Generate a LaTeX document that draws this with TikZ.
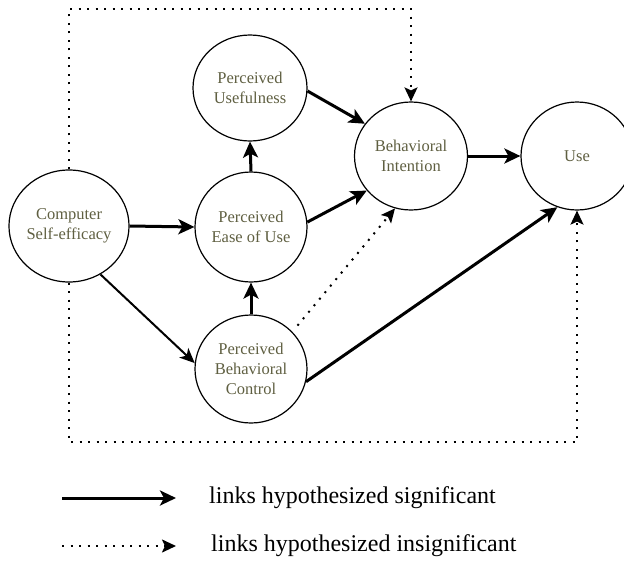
\documentclass[tikz,border=0pt]{standalone}
\usepackage{fontspec}
\setmainfont{Liberation Serif}
\usetikzlibrary{shapes.geometric,arrows.meta,calc}
\definecolor{nodetext}{RGB}{95,95,65}
\tikzset{
  construct/.style={ellipse,draw,line width=1.2pt,inner sep=0pt,
    text=nodetext,align=center,font=\fontsize{16.5}{20}\selectfont},
  sig/.style={line width=3pt,-{Stealth[length=16pt,width=15pt,inset=4pt]}},
  sigthin/.style={line width=2pt,-{Stealth[length=15pt,width=13pt,inset=4pt]}},
  insig/.style={line width=2pt,dash pattern=on 2pt off 6.5pt,-{Stealth[length=14pt,width=13pt,inset=3pt]}},
  legendtext/.style={anchor=west,inner sep=0pt,font=\fontsize{24}{28}\selectfont}
}
\begin{document}
\begin{tikzpicture}[x=1pt,y=-1pt]
\useasboundingbox (0,0) rectangle (624,563);
% nodes
\node[construct,minimum width=114pt,minimum height=112pt] (cse) at (69,226) {Computer\\Self-efficacy};
\node[construct,minimum width=114pt,minimum height=106pt] (pu) at (250,88) {Perceived\\Usefulness};
\node[construct,minimum width=112pt,minimum height=110pt] (peou) at (251,227) {Perceived\\Ease of Use};
\node[construct,minimum width=112pt,minimum height=108pt] (pbc) at (251,369) {Perceived\\Behavioral\\Control};
\node[construct,minimum width=113pt,minimum height=108pt] (bi) at (411,156) {Behavioral\\Intention};
\node[construct,minimum width=112pt,minimum height=108pt] (use) at (577,156) {Use};
% significant links
\draw[sig] (cse.east) -- (peou.west);
\draw[sig] (peou.north) -- (pu.south);
\draw[sig] (pbc.north) -- (peou.south);
\draw[sig] (pu.-3) -- (bi.145);
\draw[sig] (peou.5) -- (bi.218);
\draw[sig] (bi.east) -- (use.west);
\draw[sigthin] (cse.-57) -- (pbc.174);
\draw[sig] (pbc.-13) -- (use.-111);
% insignificant links
\draw[insig,shorten <=8pt] (pbc.42) -- (bi.-107);
\coordinate (top) at (0,9);
\coordinate (bot) at (0,442);
\draw[insig] (cse.north) -- (cse.north |- top) -| (bi.north);
\draw[insig] (cse.south) -- (cse.south |- bot) -| (use.south);
% legend
\coordinate (s1) at (62,498);
\coordinate (e1) at (176,498);
\coordinate (s2) at (62,546);
\coordinate (e2) at (176,546);
\draw[sig] (s1) -- (e1);
\draw[insig] (s2) -- (e2);
\node[legendtext] (t1) at (209,498) {links hypothesized significant};
\node[legendtext] (t2) at (211,546) {links hypothesized insignificant};
\end{tikzpicture}
\end{document}
